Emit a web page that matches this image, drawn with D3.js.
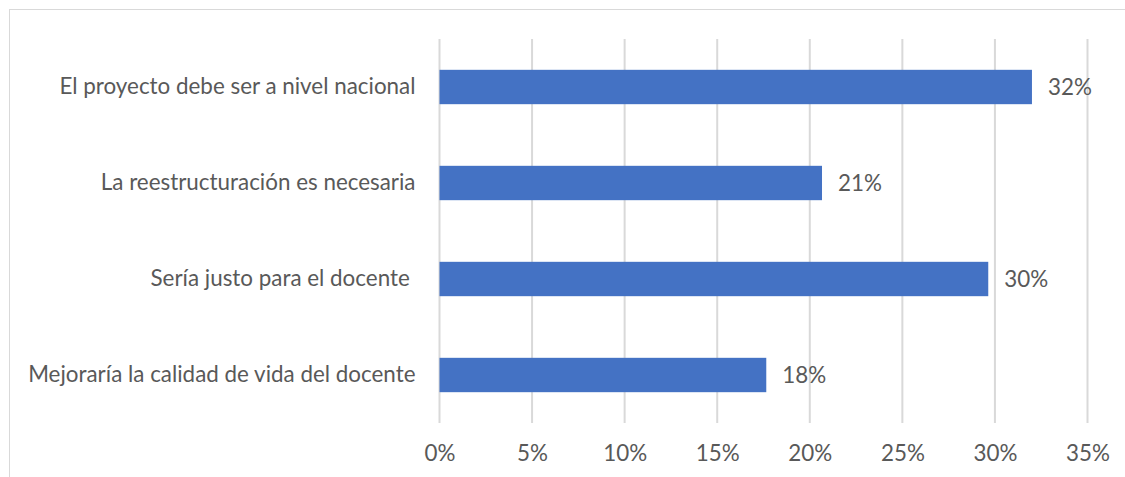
<!DOCTYPE html>
<html>
<head>
<meta charset="utf-8">
<script src="https://cdn.jsdelivr.net/npm/d3@7"></script>
<style>
  body { margin: 0; background: #fff; }
  text { font-family: Lato, "Open Sans", sans-serif; fill: #595959; }
</style>
</head>
<body>
<script>
// data
var categories = [
  "El proyecto debe ser a nivel nacional",
  "La reestructuración es necesaria",
  "Sería justo para el docente ",
  "Mejoraría la calidad de vida del docente"
];
var values = [0.32, 0.2066, 0.2964, 0.1765];
var ticks = [0, 0.05, 0.10, 0.15, 0.20, 0.25, 0.30, 0.35];

var W = 1125, H = 477;
var margin = {top: 39, right: 37.5, bottom: 54, left: 439.5};
var width = W - margin.left - margin.right,
    height = H - margin.top - margin.bottom;

var svg = d3.select("body").append("svg")
    .attr("width", W)
    .attr("height", H);

// chart frame (cut off at right and bottom)
svg.append("rect")
    .attr("x", 9.5).attr("y", 9.5)
    .attr("width", W).attr("height", H)
    .attr("fill", "none")
    .attr("stroke", "#d9d9d9");

var g = svg.append("g")
    .attr("transform", "translate(" + margin.left + "," + margin.top + ")");

var x = d3.scaleLinear()
    .domain([0, 0.35])
    .range([0, width]);

var y = d3.scaleBand()
    .domain(categories)
    .range([0, height])
    .paddingInner(0.642)
    .paddingOuter(0.321);

var fs = 22.4;

// gridlines
g.selectAll(".grid")
    .data(ticks)
  .enter().append("line")
    .attr("class", "grid")
    .attr("x1", function(d) { return x(d); })
    .attr("x2", function(d) { return x(d); })
    .attr("y1", 0)
    .attr("y2", height)
    .attr("stroke", "#d9d9d9")
    .attr("stroke-width", 2);

// x tick labels
var xAxis = d3.axisBottom(x)
    .tickValues(ticks)
    .tickSize(0)
    .tickPadding(22)
    .tickFormat(d3.format(".0%"));

var ax = g.append("g")
    .attr("transform", "translate(0," + height + ")")
    .call(xAxis);
ax.select(".domain").remove();
ax.selectAll("text")
    .attr("fill", "#595959")
    .style("font-size", fs + "px")
    .style("font-family", "Lato, 'Open Sans', sans-serif");

// category labels
var yAxis = d3.axisLeft(y).tickSize(0).tickPadding(24);
var ay = g.append("g").call(yAxis);
ay.select(".domain").remove();
ay.selectAll("text")
    .attr("fill", "#595959")
    .style("white-space", "pre")
    .style("font-size", fs + "px")
    .style("font-family", "Lato, 'Open Sans', sans-serif");

// bars
g.selectAll(".bar")
    .data(values)
  .enter().append("rect")
    .attr("class", "bar")
    .attr("x", 0)
    .attr("y", function(d, i) { return y(categories[i]); })
    .attr("width", function(d) { return x(d); })
    .attr("height", y.bandwidth())
    .attr("fill", "#4472c4");

// value labels
g.selectAll(".lbl")
    .data(values)
  .enter().append("text")
    .attr("class", "lbl")
    .attr("x", function(d) { return x(d) + 16; })
    .attr("y", function(d, i) { return y(categories[i]) + y.bandwidth() / 2; })
    .attr("dy", "0.35em")
    .style("font-size", fs + "px")
    .text(function(d) { return Math.round(d * 100) + "%"; });
</script>
</body>
</html>
